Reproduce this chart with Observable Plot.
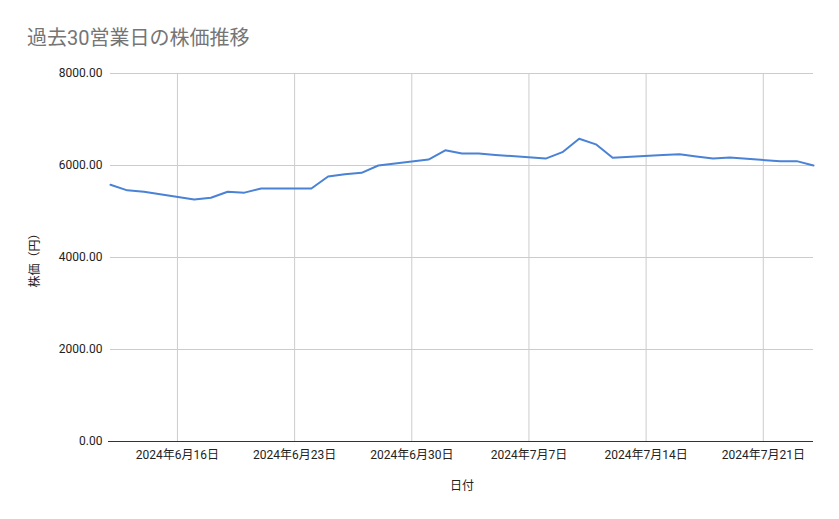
<!DOCTYPE html>
<html><head><meta charset="utf-8">
<script src="https://cdn.jsdelivr.net/npm/d3@7"></script>
<script src="https://cdn.jsdelivr.net/npm/@observablehq/plot@0.6"></script>
<style>
body{margin:0;background:#fff;font-family:Roboto,"Noto Sans CJK JP",sans-serif;}
#title{height:55px;box-sizing:border-box;padding:26px 0 0 27px;font-size:20px;line-height:24px;color:#757575;font-family:Roboto,"Noto Sans CJK JP",sans-serif;}
</style></head><body>
<div id="title">過去30営業日の株価推移</div>
<div id="chart"></div>
<script>
const dates = ["2024-06-12","2024-06-13","2024-06-14","2024-06-17","2024-06-18","2024-06-19","2024-06-20","2024-06-21","2024-06-24","2024-06-25","2024-06-26","2024-06-27","2024-06-28","2024-07-01","2024-07-02","2024-07-03","2024-07-04","2024-07-05","2024-07-08","2024-07-09","2024-07-10","2024-07-11","2024-07-12","2024-07-15","2024-07-16","2024-07-17","2024-07-18","2024-07-19","2024-07-22","2024-07-23","2024-07-24"];
const prices = [5580,5460,5430,5260,5300,5430,5410,5500,5500,5760,5810,5840,6000,6130,6330,6260,6260,6230,6150,6290,6580,6460,6170,6230,6245,6195,6150,6175,6090,6095,6000];
const xTickLabels = ["2024-06-16","2024-06-23","2024-06-30","2024-07-07","2024-07-14","2024-07-21"];
const yTicks = [0,2000,4000,6000,8000];

const data = dates.map((d,i)=>({date:new Date(d), price:prices[i]}));
const xTicks = xTickLabels.map(d=>new Date(d));
const fmtDate = d => `${d.getUTCFullYear()}年${d.getUTCMonth()+1}月${d.getUTCDate()}日`;

const chart = Plot.plot({
  width: 839,
  height: 464,
  marginTop: 18,
  marginBottom: 78,
  marginLeft: 110,
  marginRight: 26,
  style: {fontFamily: 'Roboto,"Noto Sans CJK JP",sans-serif', fontSize: "12px", color: "#222", background: "#fff"},
  x: {type: "utc", domain: [new Date(dates[0]), new Date(dates[dates.length-1])], ticks: xTicks, tickFormat: fmtDate, label: "日付", labelAnchor: "center", labelArrow: "none", labelOffset: 48, tickSize: 0, tickPadding: 9},
  y: {domain: [0, 8000], ticks: yTicks, tickFormat: d3.format(".2f"), label: "株価（円）", labelAnchor: "center", labelArrow: "none", labelOffset: 80, tickSize: 0, tickPadding: 8},
  marks: [
    Plot.gridX(xTicks, {stroke: "#cccccc", strokeOpacity: 1}),
    Plot.gridY(yTicks, {stroke: "#cccccc", strokeOpacity: 1}),
    Plot.ruleY([0], {stroke: "#333333", strokeWidth: 1, insetLeft: -2}),
    Plot.lineY(data, {x: "date", y: "price", stroke: "#4a82d6", strokeWidth: 2})
  ]
});
document.getElementById("chart").appendChild(chart);
</script>
</body></html>
